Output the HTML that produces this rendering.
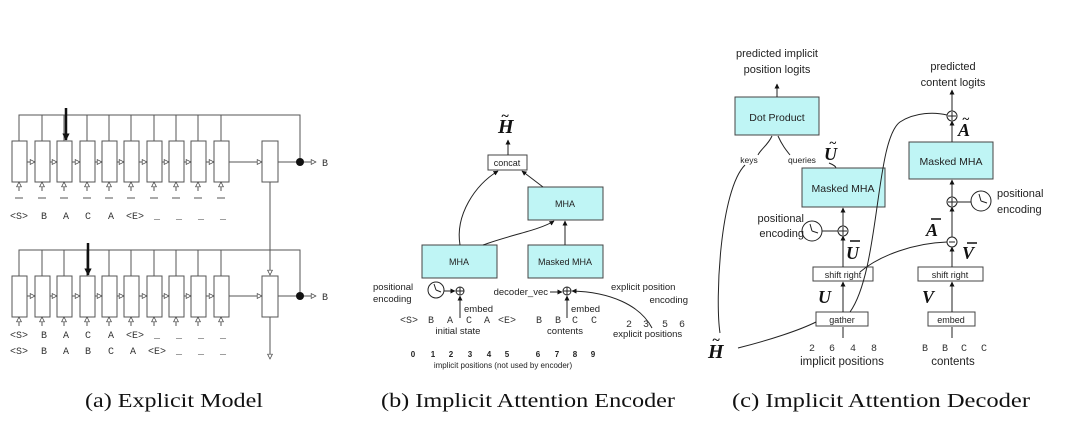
<!DOCTYPE html>
<html><head><meta charset="utf-8"><style>
html,body{margin:0;padding:0;background:#fff}
svg{display:block}
.s{font-family:"Liberation Sans",sans-serif;fill:#222}
.m{font-family:"Liberation Mono",monospace;fill:#333;font-size:10px}
.cap{font-family:"Liberation Serif",serif;font-size:20px;fill:#111}
.bi{font-family:"Liberation Serif",serif;font-weight:bold;font-style:italic;fill:#111}
</style></head><body>
<svg width="1080" height="433" viewBox="0 0 1080 433" xmlns="http://www.w3.org/2000/svg">
<defs>
<marker id="oa" viewBox="0 0 10 10" refX="9" refY="5" markerWidth="6" markerHeight="6" orient="auto"><path d="M1,1 L9,5 L1,9 Z" fill="#fff" stroke="#444" stroke-width="1.2"/></marker>
<marker id="fa" viewBox="0 0 10 10" refX="9" refY="5" markerWidth="5" markerHeight="5" orient="auto"><path d="M0,0 L10,5 L0,10 Z" fill="#111"/></marker>
<marker id="ba" viewBox="0 0 10 10" refX="9" refY="5" markerWidth="3" markerHeight="3" orient="auto"><path d="M0,0 L10,5 L0,10 Z" fill="#111"/></marker>
</defs>
<g stroke="#555" stroke-width="1" fill="none">
<!-- panel a top -->
<polyline points="19,141 19,115 300,115 300,162"/>
<rect x="12" y="141" width="15" height="41" fill="#fff"/><rect x="35" y="141" width="15" height="41" fill="#fff"/><rect x="57" y="141" width="15" height="41" fill="#fff"/><rect x="80" y="141" width="15" height="41" fill="#fff"/><rect x="102" y="141" width="15" height="41" fill="#fff"/><rect x="124" y="141" width="15" height="41" fill="#fff"/><rect x="147" y="141" width="15" height="41" fill="#fff"/><rect x="169" y="141" width="15" height="41" fill="#fff"/><rect x="191" y="141" width="15" height="41" fill="#fff"/><rect x="214" y="141" width="15" height="41" fill="#fff"/>
<path d="M42,115V141 M64,115V141 M87,115V141 M109,115V141 M131,115V141 M154,115V141 M176,115V141 M198,115V141 M221,115V141"/>
<g marker-end="url(#oa)">
<path d="M27,162H35"/><path d="M50,162H57"/><path d="M72,162H80"/><path d="M95,162H102"/><path d="M117,162H124"/><path d="M139,162H147"/><path d="M162,162H169"/><path d="M184,162H191"/><path d="M206,162H214"/>
<path d="M229,162H262"/>
<path d="M300,162H316"/>
<path d="M19,191V182"/><path d="M42,191V182"/><path d="M64,191V182"/><path d="M87,191V182"/><path d="M109,191V182"/><path d="M131,191V182"/><path d="M154,191V182"/><path d="M176,191V182"/><path d="M198,191V182"/><path d="M221,191V182"/>
<path d="M270,182V275"/>
</g>
<rect x="262" y="141" width="16" height="41" fill="#fff"/>
<path d="M278,162H300"/>
<path d="M15,198h8 M38,198h8 M60,198h8 M83,198h8 M105,198h8 M127,198h8 M150,198h8 M172,198h8 M194,198h8 M217,198h8"/>
<!-- panel a bottom -->
<polyline points="19,276 19,250 300,250 300,296"/>
<rect x="12" y="276" width="15" height="41" fill="#fff"/><rect x="35" y="276" width="15" height="41" fill="#fff"/><rect x="57" y="276" width="15" height="41" fill="#fff"/><rect x="80" y="276" width="15" height="41" fill="#fff"/><rect x="102" y="276" width="15" height="41" fill="#fff"/><rect x="124" y="276" width="15" height="41" fill="#fff"/><rect x="147" y="276" width="15" height="41" fill="#fff"/><rect x="169" y="276" width="15" height="41" fill="#fff"/><rect x="191" y="276" width="15" height="41" fill="#fff"/><rect x="214" y="276" width="15" height="41" fill="#fff"/>
<path d="M42,250V276 M64,250V276 M87,250V276 M109,250V276 M131,250V276 M154,250V276 M176,250V276 M198,250V276 M221,250V276"/>
<g marker-end="url(#oa)">
<path d="M27,296H35"/><path d="M50,296H57"/><path d="M72,296H80"/><path d="M95,296H102"/><path d="M117,296H124"/><path d="M139,296H147"/><path d="M162,296H169"/><path d="M184,296H191"/><path d="M206,296H214"/>
<path d="M229,296H262"/>
<path d="M300,296H316"/>
<path d="M19,326V317"/><path d="M42,326V317"/><path d="M64,326V317"/><path d="M87,326V317"/><path d="M109,326V317"/><path d="M131,326V317"/><path d="M154,326V317"/><path d="M176,326V317"/><path d="M198,326V317"/><path d="M221,326V317"/>
<path d="M270,317V359"/>
</g>
<rect x="262" y="276" width="16" height="41" fill="#fff"/>
<path d="M278,296H300"/>
</g>
<path d="M66,108V140" stroke="#111" stroke-width="2.5" marker-end="url(#ba)" fill="none"/>
<path d="M88,243V275" stroke="#111" stroke-width="2.5" marker-end="url(#ba)" fill="none"/>
<circle cx="300" cy="162" r="4" fill="#111"/><circle cx="300" cy="296" r="4" fill="#111"/>
<text class="m" x="322" y="166">B</text><text class="m" x="322" y="300">B</text>
<g class="m" text-anchor="middle">
<text x="19" y="219">&lt;S&gt;</text><text x="44" y="219">B</text><text x="66" y="219">A</text><text x="88" y="219">C</text><text x="111" y="219">A</text><text x="135" y="219">&lt;E&gt;</text><text x="157" y="219">_</text><text x="179" y="219">_</text><text x="201" y="219">_</text><text x="223" y="219">_</text>
<text x="19" y="338">&lt;S&gt;</text><text x="44" y="338">B</text><text x="66" y="338">A</text><text x="88" y="338">C</text><text x="111" y="338">A</text><text x="135" y="338">&lt;E&gt;</text><text x="157" y="338">_</text><text x="179" y="338">_</text><text x="201" y="338">_</text><text x="223" y="338">_</text>
<text x="19" y="354">&lt;S&gt;</text><text x="44" y="354">B</text><text x="66" y="354">A</text><text x="88" y="354">B</text><text x="111" y="354">C</text><text x="133" y="354">A</text><text x="157" y="354">&lt;E&gt;</text><text x="179" y="354">_</text><text x="201" y="354">_</text><text x="223" y="354">_</text>
</g>

<!-- panel b -->
<g stroke="#222" stroke-width="1" fill="none">
<rect x="488" y="155" width="39" height="15" fill="#fff" stroke="#444"/>
<rect x="528" y="187" width="75" height="33" fill="#bff5f5" stroke="#444"/>
<rect x="422" y="245" width="75" height="33" fill="#bff5f5" stroke="#444"/>
<rect x="528" y="245" width="75" height="33" fill="#bff5f5" stroke="#444"/>
<path d="M508,155V140" marker-end="url(#fa)"/>
<path d="M460,245 C455,215 475,185 498,171" marker-end="url(#fa)"/>
<path d="M543,187 L522,171" marker-end="url(#fa)"/>
<path d="M483,245 C510,235 540,230 554,221" marker-end="url(#fa)"/>
<path d="M565,245V221" marker-end="url(#fa)"/>
<circle cx="460" cy="291" r="4" fill="#fff"/><path d="M456,291h8M460,287v8"/>
<circle cx="567" cy="291" r="4" fill="#fff"/><path d="M563,291h8M567,287v8"/>
<circle cx="436" cy="290" r="8" fill="#fff"/><path d="M436,290 L434,284 M436,290 L441,292"/>
<path d="M444,291H455" marker-end="url(#fa)"/>
<path d="M460,318V296" marker-end="url(#fa)"/>
<path d="M567,318V296" marker-end="url(#fa)"/>
<path d="M550,292H562" marker-end="url(#fa)"/>
<path d="M652,328 C640,305 610,292 572,291" marker-end="url(#fa)"/>
</g>
<text class="bi" x="498" y="133" font-size="20">H</text><text class="bi" x="501" y="120" font-size="14">~</text>
<g class="s" font-size="9">
<text x="507" y="166" text-anchor="middle">concat</text>
<text x="565" y="207" text-anchor="middle">MHA</text>
<text x="459" y="265" text-anchor="middle">MHA</text>
<text x="565" y="265" text-anchor="middle">Masked MHA</text>
</g>
<g class="s" font-size="9.5">
<text x="373" y="290">positional</text><text x="373" y="302">encoding</text>
<text x="464" y="312">embed</text><text x="571" y="312">embed</text>
<text x="548" y="295" text-anchor="end">decoder_vec</text>
<text x="611" y="290">explicit position</text><text x="688" y="303" text-anchor="end">encoding</text>
<text x="458" y="334" text-anchor="middle">initial state</text>
<text x="565" y="334" text-anchor="middle">contents</text>
<text x="613" y="337">explicit positions</text>
</g>
<g class="m" font-size="9" text-anchor="middle">
<text x="409" y="323">&lt;S&gt;</text><text x="431" y="323">B</text><text x="450" y="323">A</text><text x="469" y="323">C</text><text x="487" y="323">A</text><text x="507" y="323">&lt;E&gt;</text>
<text x="539" y="323">B</text><text x="558" y="323">B</text><text x="575" y="323">C</text><text x="594" y="323">C</text>
<text x="629" y="327">2</text><text x="646" y="327">3</text><text x="665" y="327">5</text><text x="682" y="327">6</text>
</g>
<g class="s" font-size="8" font-weight="bold" text-anchor="middle">
<text x="413" y="357">0</text><text x="433" y="357">1</text><text x="451" y="357">2</text><text x="470" y="357">3</text><text x="489" y="357">4</text><text x="507" y="357">5</text>
<text x="538" y="357">6</text><text x="557" y="357">7</text><text x="575" y="357">8</text><text x="593" y="357">9</text>
</g>
<text class="s" font-size="8" x="503" y="368" text-anchor="middle">implicit positions (not used by encoder)</text>

<!-- panel c -->
<g stroke="#222" stroke-width="1" fill="none">
<rect x="735" y="97" width="84" height="38" fill="#bff5f5" stroke="#444"/>
<rect x="802" y="168" width="83" height="39" fill="#bff5f5" stroke="#444"/>
<rect x="909" y="142" width="84" height="37" fill="#bff5f5" stroke="#444"/>
<rect x="813" y="267" width="60" height="14" fill="#fff" stroke="#444"/>
<rect x="816" y="312" width="52" height="14" fill="#fff" stroke="#444"/>
<rect x="918" y="267" width="65" height="14" fill="#fff" stroke="#444"/>
<rect x="928" y="312" width="47" height="14" fill="#fff" stroke="#444"/>
<path d="M777,97V84" marker-end="url(#fa)"/>
<path d="M952,111V90" marker-end="url(#fa)"/>
<path d="M952,142V121" marker-end="url(#fa)"/>
<path d="M952,197V180" marker-end="url(#fa)"/>
<path d="M952,237V207" marker-end="url(#fa)"/>
<path d="M952,267V247" marker-end="url(#fa)"/>
<path d="M952,312V282" marker-end="url(#fa)"/>
<path d="M952,338V327"/>
<path d="M843,226V208" marker-end="url(#fa)"/>
<path d="M843,267V236" marker-end="url(#fa)"/>
<path d="M843,312V282" marker-end="url(#fa)"/>
<path d="M843,338V327"/>
<circle cx="952" cy="116" r="5" fill="#fff"/><path d="M948,116h8M952,112v8"/>
<circle cx="952" cy="202" r="5" fill="#fff"/><path d="M948,202h8M952,198v8"/>
<circle cx="952" cy="242" r="5" fill="#fff"/><path d="M949,242h6"/>
<circle cx="843" cy="231" r="5" fill="#fff"/><path d="M839,231h8M843,227v8"/>
<circle cx="812" cy="231" r="10" fill="#fff"/><path d="M812,231 L810,224 M812,231 L818,233"/>
<path d="M822,231H838"/>
<circle cx="981" cy="201" r="10" fill="#fff"/><path d="M981,201 L979,194 M981,201 L987,203"/>
<path d="M957,202H971"/>
<path d="M772,136 C768,145 760,150 758,155"/>
<path d="M778,136 C782,145 786,150 790,155"/>
<path d="M829,163 C834,165 836,167 836,168"/>
<path d="M745,165 C720,190 715,300 720,333"/>
<path d="M738,348 C770,340 800,330 816,322"/>
<path d="M850,312 C880,270 875,140 900,122 C915,112 935,112 947,115"/>
<path d="M860,272 C880,255 915,243 947,242"/>
<!-- bars -->
<g stroke="#111" stroke-width="1.6">
<path d="M850,241h10 M931,219h10 M967,243h10"/>
</g>
</g>
<g class="s">
<text x="777" y="57" font-size="11" text-anchor="middle">predicted implicit</text>
<text x="777" y="73" font-size="11" text-anchor="middle">position logits</text>
<text x="953" y="70" font-size="11" text-anchor="middle">predicted</text>
<text x="953" y="86" font-size="11" text-anchor="middle">content logits</text>
<text x="777" y="121" font-size="10.5" text-anchor="middle">Dot Product</text>
<text x="843" y="192" font-size="10.5" text-anchor="middle">Masked MHA</text>
<text x="951" y="165" font-size="10.5" text-anchor="middle">Masked MHA</text>
<text x="749" y="163" font-size="8.5" text-anchor="middle">keys</text>
<text x="802" y="163" font-size="8.5" text-anchor="middle">queries</text>
<text x="804" y="222" font-size="11" text-anchor="end">positional</text>
<text x="804" y="237" font-size="11" text-anchor="end">encoding</text>
<text x="997" y="197" font-size="11">positional</text>
<text x="997" y="213" font-size="11">encoding</text>
<text x="843" y="278" font-size="9" text-anchor="middle">shift right</text>
<text x="950" y="278" font-size="9" text-anchor="middle">shift right</text>
<text x="842" y="323" font-size="9" text-anchor="middle">gather</text>
<text x="951" y="323" font-size="9" text-anchor="middle">embed</text>
<text x="842" y="365" font-size="11.5" text-anchor="middle">implicit positions</text>
<text x="953" y="365" font-size="11.5" text-anchor="middle">contents</text>
</g>
<g class="m" font-size="10" text-anchor="middle">
<text x="812" y="351">2</text><text x="832" y="351">6</text><text x="853" y="351">4</text><text x="874" y="351">8</text>
<text x="925" y="351">B</text><text x="945" y="351">B</text><text x="964" y="351">C</text><text x="984" y="351">C</text>
</g>
<g class="bi" font-size="18">
<text x="824" y="160">U</text><text x="829" y="147" font-size="13">~</text>
<text x="846" y="259">U</text>
<text x="818" y="303">U</text>
<text x="958" y="136">A</text><text x="962" y="123" font-size="13">~</text>
<text x="926" y="236">A</text>
<text x="962" y="259">V</text>
<text x="922" y="303">V</text>
<text x="708" y="358" font-size="20">H</text><text x="712" y="344" font-size="14">~</text>
</g>

<text class="cap" x="85" y="407" textLength="178" lengthAdjust="spacingAndGlyphs">(a) Explicit Model</text>
<text class="cap" x="381" y="407" textLength="294" lengthAdjust="spacingAndGlyphs">(b) Implicit Attention Encoder</text>
<text class="cap" x="732" y="407" textLength="298" lengthAdjust="spacingAndGlyphs">(c) Implicit Attention Decoder</text>
</svg>
</body></html>
